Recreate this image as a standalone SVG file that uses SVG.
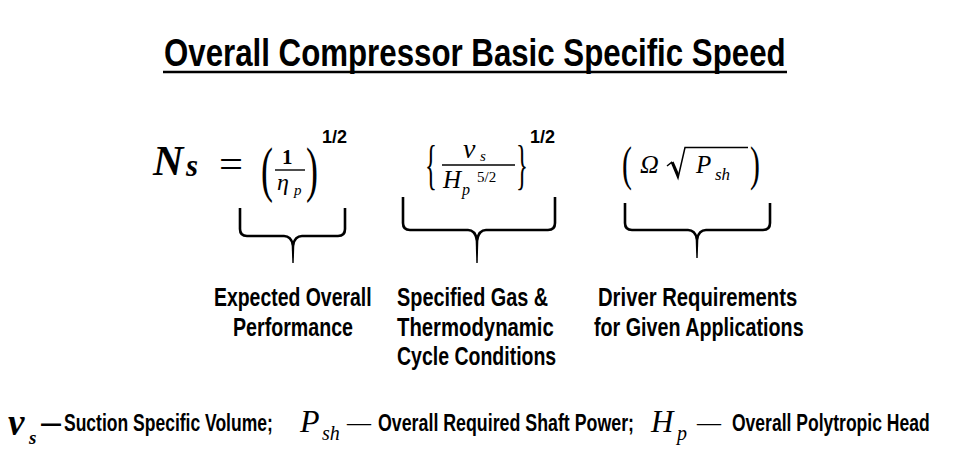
<svg xmlns="http://www.w3.org/2000/svg" width="953" height="459" viewBox="0 0 953 459">
<style>
.sans{font-family:"Liberation Sans",Arial,sans-serif;font-weight:bold;fill:#000}
.lbl{font-size:25px}
.leg{font-size:23px}
.m{font-family:"Liberation Serif","DejaVu Serif",serif;font-style:italic;fill:#000}
.r{font-family:"Liberation Serif","DejaVu Serif",serif;fill:#000}
.it{font-style:italic}
.up{font-style:normal}
.b{font-weight:bold}
.ss{font-family:"Liberation Sans",Arial,sans-serif;font-weight:bold;font-style:normal;font-size:18px;fill:#000}
.brace{fill:none;stroke:#000;stroke-width:2.6;stroke-linejoin:round;stroke-linecap:butt}
.bar{stroke:#000;stroke-width:1.4}
.rad{fill:none;stroke:#000;stroke-width:1.5;stroke-linejoin:miter}
</style>
<rect width="953" height="459" fill="#fff"/>

<g id="title">
<text class="sans" transform="translate(164,66) scale(0.8,1)" x="0" y="0" font-size="38" textLength="777" lengthAdjust="spacingAndGlyphs">Overall Compressor Basic Specific Speed</text>
<line x1="163" y1="72" x2="787" y2="72" stroke="#000" stroke-width="2.5"/>
</g>

<g id="lhs">
<text class="m b"><tspan x="153" y="175" font-size="42">N</tspan><tspan x="186" y="176" font-size="31">s</tspan></text>
<text class="r" x="219" y="178" font-size="40" textLength="24" lengthAdjust="spacingAndGlyphs">=</text>
</g>

<g id="term-efficiency">
<text class="r" transform="translate(261,190) scale(0.58,1)" font-size="62">(</text>
<text class="r b" x="282" y="164" font-size="21">1</text>
<line class="bar" x1="275" y1="170" x2="305" y2="170"/>
<text class="m"><tspan x="277" y="190" font-size="24">η</tspan><tspan x="294" y="195" font-size="15">p</tspan></text>
<text class="r" transform="translate(306,190) scale(0.58,1)" font-size="62">)</text>
<text class="ss" x="322" y="143">1/2</text>
</g>

<g id="term-gas">
<text class="r" transform="translate(425,183) scale(0.46,1)" font-size="54">{</text>
<line class="bar" x1="442" y1="165" x2="515" y2="165"/>
<text class="m"><tspan x="463" y="158" font-size="28">ν</tspan><tspan x="480" y="161" font-size="15">s</tspan></text>
<text class="m"><tspan x="443" y="188" font-size="25">H</tspan><tspan x="462" y="195" font-size="16">p</tspan><tspan class="up" x="477" y="182" font-size="15">5/2</tspan></text>
<text class="r" transform="translate(516,183) scale(0.46,1)" font-size="54">}</text>
<text class="ss" x="530" y="143">1/2</text>
</g>

<g id="term-driver">
<text class="r" transform="translate(622,180) scale(0.62,1)" font-size="48">(</text>
<path class="rad" d="M667,166 L671.5,162.5 L678,178 L685,147.5 H748"/>
<path d="M671.5,162.5 L673.5,161.5 L679,174 L678,178 Z" fill="#000"/>
<text class="m"><tspan x="640" y="173" font-size="26">Ω</tspan><tspan x="696" y="173" font-size="25">P</tspan><tspan x="715" y="180" font-size="17">sh</tspan></text>
<text class="r" transform="translate(750,180) scale(0.62,1)" font-size="48">)</text>
</g>

<g id="connectors">
<path class="brace" d="M240,208 V229 Q240,236 247,236 H284 Q291,236 293,245 Q295,236 302,236 H338 Q345,236 345,229 V208"/>
<path d="M291.6,243 L294.4,243 L293.7,263 L292.3,263 Z" fill="#000"/>
<path class="brace" d="M403,197 V223 Q403,230 410,230 H468 Q475,230 477,240 Q479,230 486,230 H548 Q555,230 555,223 V197"/>
<path d="M475.6,238 L478.4,238 L477.7,263 L476.3,263 Z" fill="#000"/>
<path class="brace" d="M625,203 V223 Q625,230 632,230 H688 Q695,230 697,239 Q699,230 706,230 H763 Q770,230 770,223 V203"/>
<path d="M695.6,237 L698.4,237 L697.7,258 L696.3,258 Z" fill="#000"/>
</g>

<g id="label-performance">
<text class="sans lbl" transform="translate(214,306) scale(0.8,1)" x="0" y="0" textLength="197" lengthAdjust="spacingAndGlyphs">Expected Overall</text>
<text class="sans lbl" transform="translate(233,336) scale(0.8,1)" x="0" y="0" textLength="150" lengthAdjust="spacingAndGlyphs">Performance</text>
</g>
<g id="label-gas">
<text class="sans lbl" transform="translate(397,306) scale(0.8,1)" x="0" y="0" textLength="189" lengthAdjust="spacingAndGlyphs">Specified Gas &amp;</text>
<text class="sans lbl" transform="translate(397,336) scale(0.8,1)" x="0" y="0" textLength="196" lengthAdjust="spacingAndGlyphs">Thermodynamic</text>
<text class="sans lbl" transform="translate(397,365) scale(0.8,1)" x="0" y="0" textLength="199" lengthAdjust="spacingAndGlyphs">Cycle Conditions</text>
</g>
<g id="label-driver">
<text class="sans lbl" transform="translate(598,306) scale(0.8,1)" x="0" y="0" textLength="249" lengthAdjust="spacingAndGlyphs">Driver Requirements</text>
<text class="sans lbl" transform="translate(594,336) scale(0.8,1)" x="0" y="0" textLength="262" lengthAdjust="spacingAndGlyphs">for Given Applications</text>
</g>

<g id="legend">
<text class="m b"><tspan x="8" y="435" font-size="37">ν</tspan><tspan x="29" y="444" font-size="19">s</tspan></text>
<text class="sans leg" x="41" y="431" textLength="20" lengthAdjust="spacingAndGlyphs">—</text>
<text class="sans leg" transform="translate(64,431) scale(0.8,1)" x="0" y="0" textLength="261" lengthAdjust="spacingAndGlyphs">Suction Specific Volume;</text>
<text class="m"><tspan x="300" y="432" font-size="32">P</tspan><tspan x="322" y="440" font-size="20">sh</tspan><tspan class="up" x="347" y="430" font-size="24">—</tspan></text>
<text class="sans leg" transform="translate(378,431) scale(0.8,1)" x="0" y="0" textLength="320" lengthAdjust="spacingAndGlyphs">Overall Required Shaft Power;</text>
<text class="m"><tspan x="651" y="432" font-size="31">H</tspan><tspan x="677" y="440" font-size="20">p</tspan><tspan class="up" x="697" y="430" font-size="24">—</tspan></text>
<text class="sans leg" transform="translate(732,431) scale(0.8,1)" x="0" y="0" textLength="247" lengthAdjust="spacingAndGlyphs">Overall Polytropic Head</text>
</g>
</svg>
